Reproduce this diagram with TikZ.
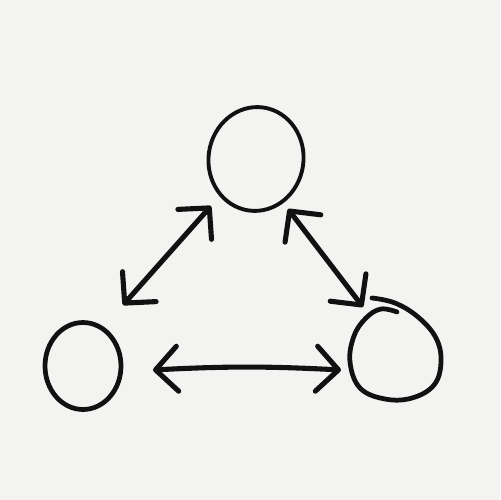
\documentclass[tikz,border=0pt]{standalone}
\usetikzlibrary{arrows.meta,shapes.geometric}
\definecolor{bg}{HTML}{F3F4F1}
\definecolor{ink}{HTML}{111111}
\tikzset{
  blob/.style={ellipse, draw=ink, inner sep=0pt},
  barb/.tip={Straight Barb[length=0.44cm,width=0.9cm,line cap=round,line join=round]},
  link/.style={draw=ink, line width=2.9pt, line cap=round, {barb}-{barb}}
}
\begin{document}
\begin{tikzpicture}[x=0.02cm,y=-0.02cm]
\fill[bg] (0,0) rectangle (500,500);
\useasboundingbox (0,0) rectangle (500,500);
\node[blob, line width=2.2pt, rotate=-8, minimum width=1.9cm, minimum height=2.08cm] (top) at (256,159) {};
\node[blob, line width=2.7pt, minimum width=1.52cm, minimum height=1.74cm] (left) at (83,366) {};
\node[ellipse, inner sep=0pt, minimum width=1.8cm, minimum height=1.9cm] (right) at (396,352) {};
\draw[ink, line width=2.7pt, line cap=round, line join=round]
  plot[smooth, tension=0.65] coordinates {(372,298) (395,303) (418,317) (436,338) (441,362) (434,385) (412,398) (385,399) (360,388) (350,362) (354,336) (366,318) (381,309) (397,312)};
\coordinate (tl1) at (211,206);
\coordinate (tl2) at (123,305);
\coordinate (tr1) at (288,209);
\coordinate (tr2) at (363,307);
\coordinate (b1) at (153,370);
\coordinate (b2) at (341,370);
\draw[link] (tl1) -- (tl2);
\draw[link] (tr1) -- (tr2);
\draw[link] (b1) to[bend left=3] (b2);
\end{tikzpicture}
\end{document}
